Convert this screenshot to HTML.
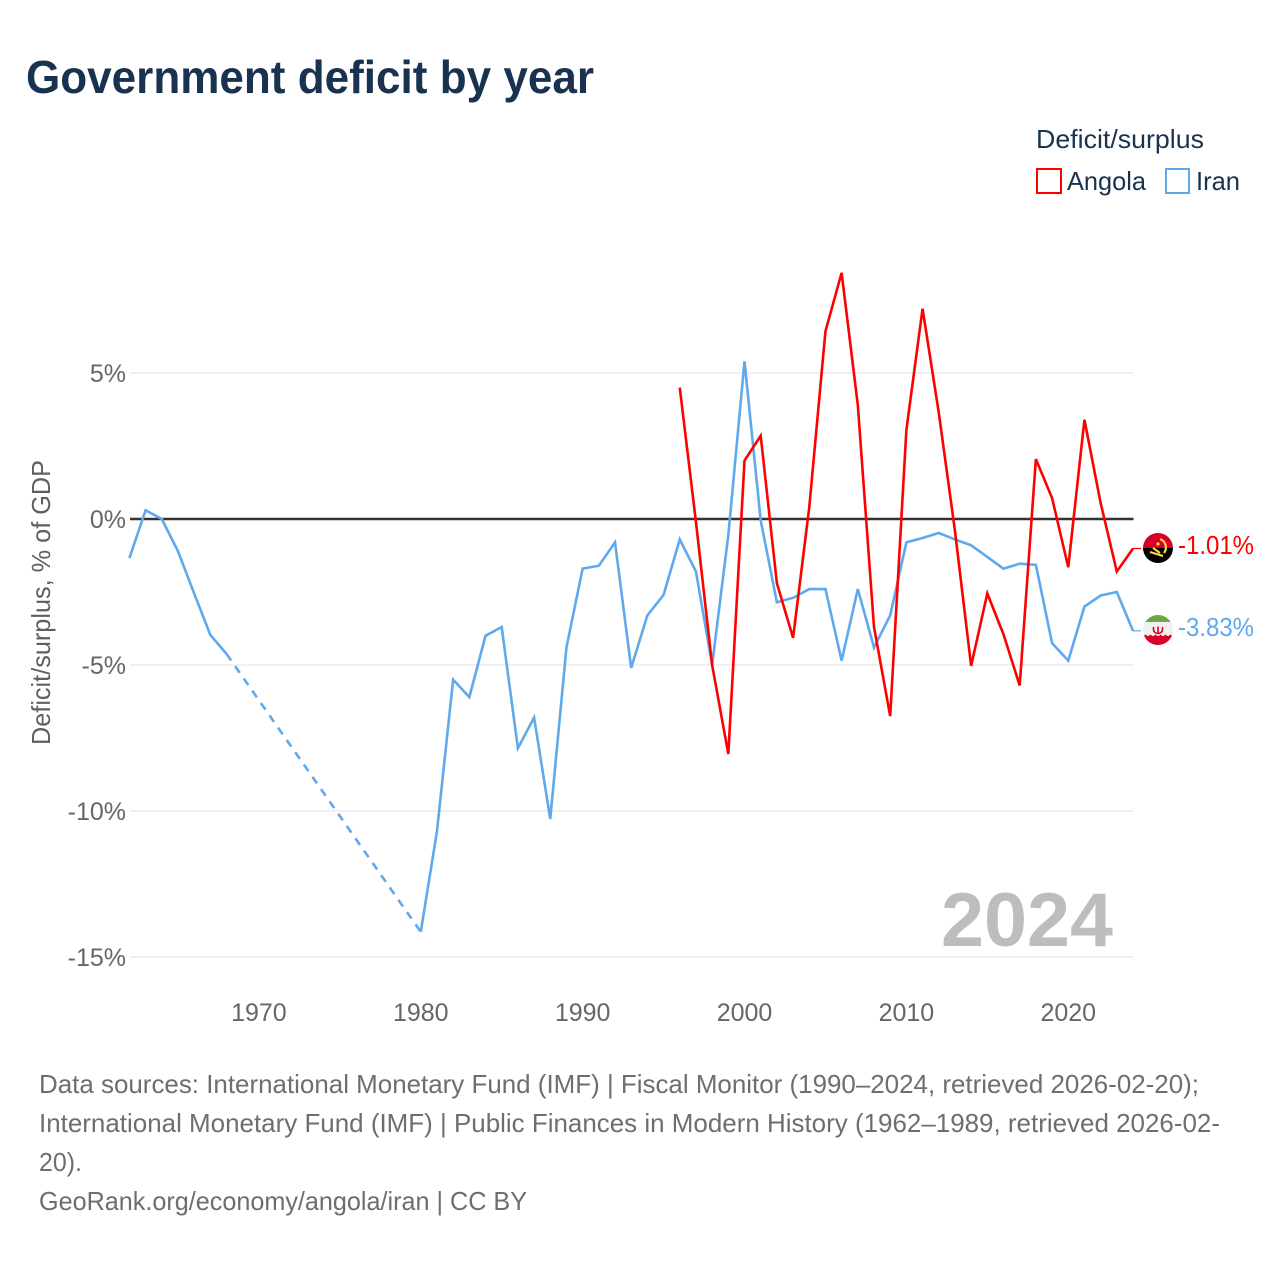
<!DOCTYPE html>
<html lang="en">
<head>
<meta charset="utf-8">
<title>Government deficit by year</title>
<style>
html,body{margin:0;padding:0;background:#fff}
svg{display:block}
text{font-family:"Liberation Sans",sans-serif}
</style>
</head>
<body>
<svg id="chart" width="1280" height="1280" viewBox="0 0 1280 1280" xmlns="http://www.w3.org/2000/svg">
  <defs>
    <clipPath id="flag-clip-a"><circle cx="1158" cy="548" r="15"/></clipPath>
    <clipPath id="flag-clip-i"><circle cx="1158" cy="630" r="15"/></clipPath>
  </defs>
  <rect width="1280" height="1280" fill="#ffffff"/>
  <text x="26" y="93" font-size="46" font-weight="700" fill="#18324f" textLength="568" lengthAdjust="spacingAndGlyphs">Government deficit by year</text>

  <g>
    <text x="1036" y="148" font-size="26" fill="#18324f" textLength="168" lengthAdjust="spacingAndGlyphs">Deficit/surplus</text>
    <g>
      <rect x="1037" y="169" width="24" height="24" fill="#fff" stroke="#ff0000" stroke-width="2"/>
      <text x="1067" y="190" font-size="26" fill="#18324f" textLength="79" lengthAdjust="spacingAndGlyphs">Angola</text>
    </g>
    <g>
      <rect x="1166" y="169" width="23" height="24" fill="#fff" stroke="#5ea9ee" stroke-width="2"/>
      <text x="1196" y="190" font-size="26" fill="#18324f" textLength="44" lengthAdjust="spacingAndGlyphs">Iran</text>
    </g>
  </g>

  <text transform="translate(50,745) rotate(-90)" font-size="26" fill="#5f5f5f" textLength="285" lengthAdjust="spacingAndGlyphs">Deficit/surplus, % of GDP</text>

  <text x="1113" y="946" text-anchor="end" font-size="76" font-weight="700" fill="#bdbdbd" textLength="172" lengthAdjust="spacingAndGlyphs">2024</text>

  <g id="grid"></g>
  <g id="y-ticks"></g>
  <g id="x-ticks"></g>
  <g id="series"></g>

  <g>
    <g clip-path="url(#flag-clip-a)">
      <rect x="1143" y="533" width="30" height="15" fill="#d80027"/>
      <rect x="1143" y="548" width="30" height="15" fill="#000000"/>
      <path d="M1160 539a9 9 0 0 1 4 14" fill="none" stroke="#ffda44" stroke-width="2.2"/>
      <path d="M1150 552l13 4M1153 548l7 5" fill="none" stroke="#ffda44" stroke-width="2"/>
      <circle cx="1158" cy="544" r="1.6" fill="#ffda44"/>
    </g>
    <text id="label-angola" x="1178" y="554" font-size="26" fill="#ff0000" textLength="76" lengthAdjust="spacingAndGlyphs"></text>
  </g>
  <g>
    <g clip-path="url(#flag-clip-i)">
      <rect x="1143" y="615" width="30" height="10" fill="#6da544"/>
      <rect x="1143" y="622" width="30" height="16" fill="#f0f0f0"/>
      <rect x="1143" y="636" width="30" height="9" fill="#d80027"/>
      <path d="M1143 622.5l2.5 2 2.5-2 2.5 2 2.5-2 2.5 2 2.5-2 2.5 2 2.5-2 2.5 2 2.5-2 2.5 2 2.5-2" fill="none" stroke="#f0f0f0" stroke-width="1.5"/>
      <path d="M1143 637.5l2.5-2 2.5 2 2.5-2 2.5 2 2.5-2 2.5 2 2.5-2 2.5 2 2.5-2 2.5 2 2.5-2 2.5 2" fill="none" stroke="#d80027" stroke-width="1.5"/>
      <path d="M1153.5 627v2.5a4.5 4 0 0 0 9 0V627M1158 626.5v7" fill="none" stroke="#d80027" stroke-width="1.6"/>
    </g>
    <text id="label-iran" x="1178" y="636" font-size="26" fill="#5ea9ee" textLength="76" lengthAdjust="spacingAndGlyphs"></text>
  </g>

  <g font-size="26" fill="#6e6e6e">
    <text x="39" y="1093" textLength="1160" lengthAdjust="spacingAndGlyphs">Data sources: International Monetary Fund (IMF) | Fiscal Monitor (1990–2024, retrieved 2026-02-20);</text>
    <text x="39" y="1132" textLength="1181" lengthAdjust="spacingAndGlyphs">International Monetary Fund (IMF) | Public Finances in Modern History (1962–1989, retrieved 2026-02-</text>
    <text x="39" y="1171" textLength="43" lengthAdjust="spacingAndGlyphs">20).</text>
    <text x="39" y="1210" textLength="488" lengthAdjust="spacingAndGlyphs">GeoRank.org/economy/angola/iran | CC BY</text>
  </g>
</svg>
<script>
const years = [1962,1963,1964,1965,1966,1967,1968,1969,1970,1971,1972,1973,1974,1975,1976,1977,1978,1979,1980,1981,1982,1983,1984,1985,1986,1987,1988,1989,1990,1991,1992,1993,1994,1995,1996,1997,1998,1999,2000,2001,2002,2003,2004,2005,2006,2007,2008,2009,2010,2011,2012,2013,2014,2015,2016,2017,2018,2019,2020,2021,2022,2023,2024];
const iranValues = [-1.34,0.3,0,-1.1,-2.55,-3.97,-4.62,null,null,null,null,null,null,null,null,null,null,null,-14.14,-10.7,-5.5,-6.1,-4,-3.7,-7.85,-6.8,-10.27,-4.4,-1.7,-1.6,-0.8,-5.1,-3.3,-2.6,-0.7,-1.8,-5,-0.55,5.4,-0.05,-2.85,-2.7,-2.4,-2.4,-4.85,-2.4,-4.4,-3.3,-0.8,-0.65,-0.48,-0.7,-0.9,-1.3,-1.7,-1.53,-1.57,-4.25,-4.85,-3,-2.62,-2.5,-3.83];
const angolaValues = [null,null,null,null,null,null,null,null,null,null,null,null,null,null,null,null,null,null,null,null,null,null,null,null,null,null,null,null,null,null,null,null,null,null,4.5,-0.1,-5,-8.05,2,2.85,-2.2,-4.07,0.4,6.43,8.43,3.9,-3.7,-6.75,3.05,7.2,3.65,-0.4,-5.03,-2.55,-3.95,-5.7,2.05,0.72,-1.65,3.4,0.55,-1.8,-1.01];
const yTickValues = [5,0,-5,-10,-15];
const xTickValues = [1970,1980,1990,2000,2010,2020];

const SVG_NS = 'http://www.w3.org/2000/svg';
const xScale = function (year) { return 129.4 + (year - 1962) * (1133 - 129.4) / (2024 - 1962); };
const yScale = function (value) { return 519 - value * 29.2; };

const gridGroup = document.getElementById('grid');
const yTickGroup = document.getElementById('y-ticks');
const xTickGroup = document.getElementById('x-ticks');
const seriesGroup = document.getElementById('series');

yTickValues.forEach(function (value) {
  const line = document.createElementNS(SVG_NS, 'line');
  
  
  line.setAttribute('x1', 130);
  line.setAttribute('x2', 1133.5);
  line.setAttribute('y1', yScale(value));
  line.setAttribute('y2', yScale(value));
  line.setAttribute('stroke', value === 0 ? '#333333' : '#e8e8e8');
  line.setAttribute('stroke-width', value === 0 ? 2.4 : 1.2);
  gridGroup.appendChild(line);

  const label = document.createElementNS(SVG_NS, 'text');
  
  
  label.setAttribute('x', 126);
  label.setAttribute('y', yScale(value) + 9);
  label.setAttribute('text-anchor', 'end');
  label.setAttribute('font-size', 25);
  label.setAttribute('fill', '#666666');
  label.textContent = value + '%';
  yTickGroup.appendChild(label);
});

xTickValues.forEach(function (year) {
  const label = document.createElementNS(SVG_NS, 'text');
  
  
  label.setAttribute('x', xScale(year));
  label.setAttribute('y', 1021);
  label.setAttribute('text-anchor', 'middle');
  label.setAttribute('font-size', 25);
  label.setAttribute('fill', '#666666');
  label.textContent = String(year);
  xTickGroup.appendChild(label);
});

function drawSeries(values, color, name) {
  let solid = '';
  let dashed = '';
  let previous = -1;
  values.forEach(function (value, i) {
    if (value === null) { return; }
    const point = xScale(years[i]).toFixed(2) + ' ' + yScale(value).toFixed(2);
    if (previous < 0) {
      solid += 'M' + point;
    } else if (previous === i - 1) {
      solid += 'L' + point;
    } else {
      dashed += 'M' + xScale(years[previous]).toFixed(2) + ' ' + yScale(values[previous]).toFixed(2) + 'L' + point;
      solid += 'M' + point;
    }
    previous = i;
  });
  const path = document.createElementNS(SVG_NS, 'path');
  
  
  path.setAttribute('d', solid);
  path.setAttribute('fill', 'none');
  path.setAttribute('stroke', color);
  path.setAttribute('stroke-width', 2.6);
  seriesGroup.appendChild(path);
  if (dashed) {
    const gap = document.createElementNS(SVG_NS, 'path');
    
    
    gap.setAttribute('d', dashed);
    gap.setAttribute('fill', 'none');
    gap.setAttribute('stroke', color);
    gap.setAttribute('stroke-width', 2.6);
    gap.setAttribute('stroke-dasharray', '8 7');
    seriesGroup.appendChild(gap);
  }
  const lastValue = values[values.length - 1];
  const connector = document.createElementNS(SVG_NS, 'line');
  
  
  connector.setAttribute('x1', xScale(years[years.length - 1]));
  connector.setAttribute('x2', 1141);
  connector.setAttribute('y1', yScale(lastValue));
  connector.setAttribute('y2', yScale(lastValue));
  connector.setAttribute('stroke', color);
  connector.setAttribute('stroke-width', 1.2);
  seriesGroup.appendChild(connector);
}

drawSeries(iranValues, '#5ea9ee', 'iran');
drawSeries(angolaValues, '#ff0000', 'angola');

document.getElementById('label-angola').textContent = angolaValues[angolaValues.length - 1].toFixed(2) + '%';
document.getElementById('label-iran').textContent = iranValues[iranValues.length - 1].toFixed(2) + '%';
</script>
</body>
</html>
